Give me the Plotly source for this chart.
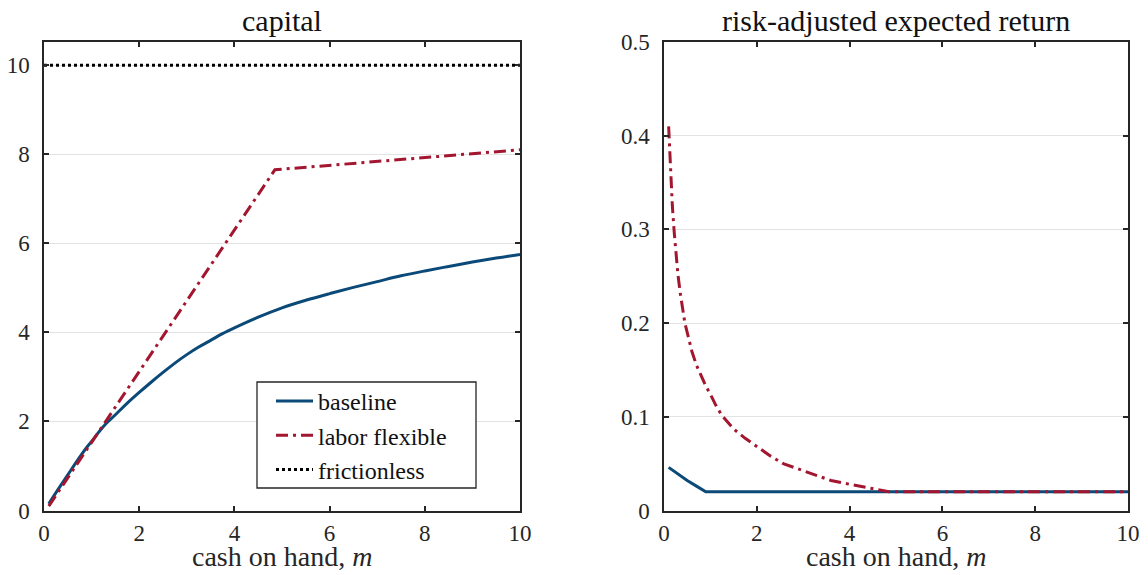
import plotly.graph_objects as go

# ---- data ----
cap_base_x = [0.1, 0.3, 0.5, 0.7, 0.9, 1.0, 1.15, 1.3, 1.5, 1.75, 2.0, 2.25, 2.5, 2.75, 3.0, 3.25, 3.5, 3.75, 4.0,
              4.5, 5.0, 5.5, 6.0, 6.5, 7.0, 7.5, 8.0, 8.5, 9.0, 9.5, 10.0]
cap_base_y = [0.15, 0.48, 0.8, 1.12, 1.42, 1.55, 1.76, 1.95, 2.15, 2.41, 2.65, 2.88, 3.1, 3.31, 3.5, 3.67, 3.82, 3.97, 4.1,
              4.34, 4.55, 4.72, 4.87, 5.01, 5.14, 5.27, 5.38, 5.48, 5.58, 5.67, 5.75]
cap_flex_x = [0.1, 4.85, 10.0]
cap_flex_y = [0.1, 7.65, 8.1]
cap_fric_x = [0.0, 10.0]
cap_fric_y = [10.0, 10.0]

ret_base_x = [0.1, 0.3, 0.5, 0.7, 0.9, 10.0]
ret_base_y = [0.046, 0.039, 0.032, 0.026, 0.02, 0.02]
ret_flex_x = [0.1, 0.12, 0.15, 0.18, 0.22, 0.26, 0.3, 0.35, 0.4, 0.45, 0.5, 0.6, 0.7, 0.8, 0.9, 1.0, 1.12, 1.24,
              1.37, 1.5, 1.75, 2.0, 2.3, 2.57, 2.8, 3.0, 3.3, 3.6, 4.0, 4.3, 4.6, 4.85, 10.0]
ret_flex_y = [0.41, 0.385, 0.352, 0.325, 0.297, 0.272, 0.252, 0.232, 0.215, 0.2, 0.19, 0.17, 0.155, 0.143, 0.133,
              0.124, 0.112, 0.102, 0.094, 0.087, 0.077, 0.068, 0.058, 0.05, 0.046, 0.042, 0.037, 0.032, 0.028,
              0.025, 0.022, 0.02, 0.02]

x_ticks = [0, 2, 4, 6, 8, 10]
cap_y_ticks = [0, 2, 4, 6, 8, 10]
ret_y_ticks = [0, 0.1, 0.2, 0.3, 0.4, 0.5]
ret_y_labels = ["0", "0.1", "0.2", "0.3", "0.4", "0.5"]

names = ["baseline", "labor flexible", "frictionless"]
titles = ["capital", "risk-adjusted expected return"]
x_title = "cash on hand, <i>m</i>"

BLUE = "#0b4a78"
RED = "#a3162f"
INK = "#262626"
FONT = "Liberation Serif"
DASHDOT = "12px,5px,3px,5px"

W, H = 1148, 575


def px(p):
    return p / W


def py(p):
    return (H - p) / H


fig = go.Figure()
fig.add_trace(go.Scatter(x=cap_base_x, y=cap_base_y, mode="lines", name=names[0], line_shape="spline",
                         line=dict(color=BLUE, width=3), xaxis="x", yaxis="y"))
fig.add_trace(go.Scatter(x=cap_flex_x, y=cap_flex_y, mode="lines", name=names[1],
                         line=dict(color=RED, width=3, dash=DASHDOT), xaxis="x", yaxis="y"))
fig.add_trace(go.Scatter(x=cap_fric_x, y=cap_fric_y, mode="lines", name=names[2],
                         line=dict(color="black", width=3, dash="dot"), xaxis="x", yaxis="y"))
fig.add_trace(go.Scatter(x=ret_base_x, y=ret_base_y, mode="lines", showlegend=False,
                         line=dict(color=BLUE, width=3), xaxis="x2", yaxis="y2"))
fig.add_trace(go.Scatter(x=ret_flex_x, y=ret_flex_y, mode="lines", showlegend=False,
                         line=dict(color=RED, width=3, dash=DASHDOT), xaxis="x2", yaxis="y2"))

axis_common = dict(showline=True, linecolor=INK, linewidth=1.5, mirror="ticks",
                   ticks="inside", ticklen=5, tickcolor=INK, tickwidth=1.5, automargin=False,
                   tickfont=dict(family=FONT, size=23, color=INK), zeroline=False)

ydom = [py(510.5), py(42)]
fig.update_layout(
    width=W, height=H,
    paper_bgcolor="white", plot_bgcolor="white",
    margin=dict(l=0, r=0, t=0, b=0, autoexpand=False),
    font=dict(family=FONT, color=INK),
    hovermode=False,
    xaxis=dict(domain=[px(44), px(520)], range=[0, 10], tickvals=x_ticks,
               showgrid=False, anchor="y", ticklabelstandoff=1, **axis_common),
    yaxis=dict(domain=ydom, range=[0, 10.52], tickvals=cap_y_ticks, anchor="x", ticklabelstandoff=8,
               showgrid=True, gridcolor="#e3e3e3", gridwidth=1.2, **axis_common),
    xaxis2=dict(domain=[px(664), px(1128)], range=[0, 10], tickvals=x_ticks,
                showgrid=False, anchor="y2", ticklabelstandoff=1, **axis_common),
    yaxis2=dict(domain=ydom, range=[0, 0.5], tickvals=ret_y_ticks, ticktext=ret_y_labels,
                anchor="x2", ticklabelstandoff=8, showgrid=True, gridcolor="#e3e3e3", gridwidth=1.2,
                **axis_common),
    legend=dict(x=px(271), y=py(379), xanchor="left", yanchor="top",
                bgcolor="rgba(0,0,0,0)", borderwidth=0,
                font=dict(family=FONT, size=24, color="#111"),
                tracegroupgap=0, itemwidth=37),
    shapes=[
        dict(type="rect", xref="paper", yref="paper", x0=px(257), x1=px(476), y0=py(488), y1=py(382),
             line=dict(color=INK, width=1.3), fillcolor="white", layer="above"),
    ],
    annotations=[
        dict(text=titles[0], x=px(282), y=py(21), xref="paper", yref="paper", xanchor="center",
             showarrow=False, font=dict(family=FONT, size=30, color="#111"), yanchor="middle"),
        dict(text=titles[1], x=px(896), y=py(21), xref="paper", yref="paper", xanchor="center",
             showarrow=False, font=dict(family=FONT, size=30, color="#111"), yanchor="middle"),
        dict(text=x_title, x=px(282), y=py(556), xref="paper", yref="paper", xanchor="center",
             showarrow=False, font=dict(family=FONT, size=28, color=INK), yanchor="middle"),
        dict(text=x_title, x=px(896), y=py(556), xref="paper", yref="paper", xanchor="center",
             showarrow=False, font=dict(family=FONT, size=28, color=INK), yanchor="middle"),
    ],
)

fig.write_html("out.html", config={"displayModeBar": False},
               post_script="document.body.style.margin='0';")
